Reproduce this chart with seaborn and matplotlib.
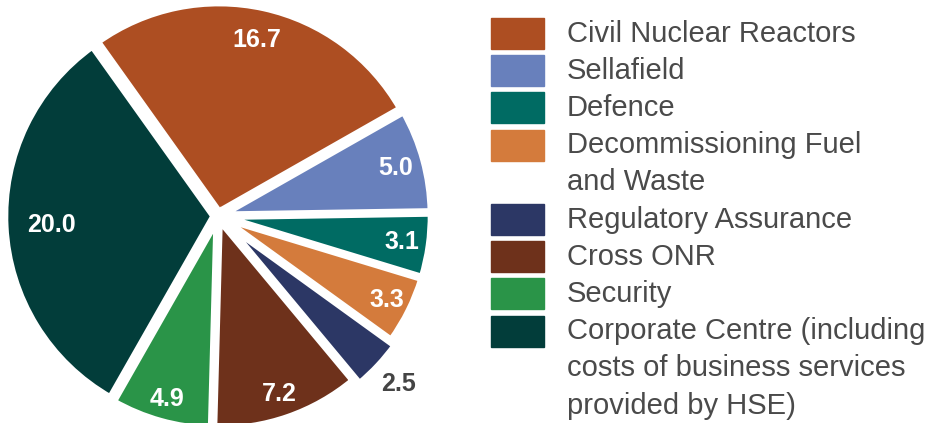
import numpy as np
import matplotlib
matplotlib.use("Agg")
import matplotlib.pyplot as plt
import seaborn as sns
from matplotlib.patches import Rectangle

# data
categories = ["Civil Nuclear Reactors", "Sellafield", "Defence",
              "Decommissioning Fuel\nand Waste", "Regulatory Assurance",
              "Cross ONR", "Security",
              "Corporate Centre (including\ncosts of business services\nprovided by HSE)"]
values = [16.7, 5.0, 3.1, 3.3, 2.5, 7.2, 4.9, 20.0]
colors = ["#AD4E22", "#6880BC", "#006B63", "#D47B3C",
          "#2C3765", "#6E311B", "#2A9448", "#023D3A"]
explode = [0.02, 0.02, 0.02, 0.02, 0.05, 0.02, 0.02, 0.02]
label_dist = [0.84, 0.86, 0.87, 0.88, 1.13, 0.88, 0.89, 0.78]
label_colors = ["white"] * 4 + ["#444444"] + ["white"] * 3

sns.set_theme(style="white")
plt.rcParams['font.family'] = ['Liberation Sans', 'DejaVu Sans']

W, H = 930, 423
fig = plt.figure(figsize=(W / 100, H / 100), dpi=100)

# pie axes: px per data unit, centre (cx, cy) measured from top-left
scale = 209.0
cx, cy = 218, 216
ax_w = 465
ax = fig.add_axes([0, 0, ax_w / W, 1])
wedges, _ = ax.pie(values, colors=colors, startangle=125.5, counterclock=False,
                   explode=explode,
                   wedgeprops=dict(edgecolor="white", linewidth=5))
ax.set_aspect("auto")
ax.set_xlim(-cx / scale, (ax_w - cx) / scale)
ax.set_ylim(-(H - cy) / scale, cy / scale)
ax.axis("off")

for w, v, d, c in zip(wedges, values, label_dist, label_colors):
    mid = np.deg2rad((w.theta1 + w.theta2) / 2)
    x0, y0 = w.center
    ax.text(x0 + d * np.cos(mid), y0 + d * np.sin(mid), f"{v:.1f}",
            ha="center", va="center", color=c, fontsize=18, fontweight="bold")

# legend drawn by hand so the patch lines up with the first text line
pitch = 37.2
line = 0
for cat, col in zip(categories, colors):
    top = 18 + line * pitch
    fig.patches.append(Rectangle((491 / W, 1 - (top + 31) / H), 53 / W, 31 / H,
                                 transform=fig.transFigure, color=col))
    for i, txt in enumerate(cat.split("\n")):
        yc = top + 15.5 + i * pitch
        fig.text(567 / W, 1 - yc / H, txt, ha="left", va="center",
                 fontsize=21, color="#4A4A4A")
    line += len(cat.split("\n"))

fig.savefig("out.png", dpi=100)
